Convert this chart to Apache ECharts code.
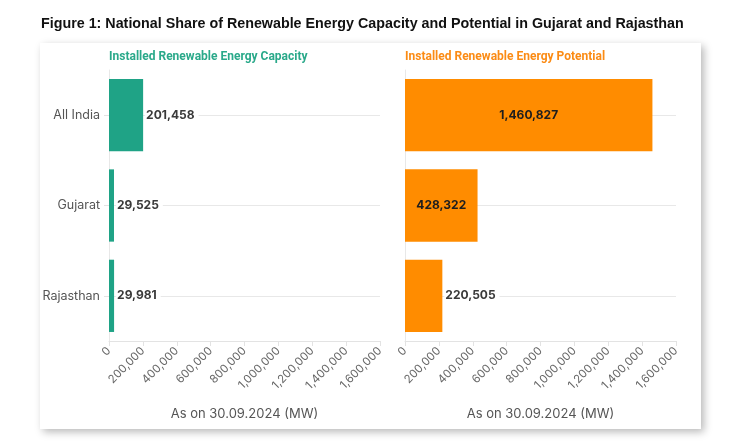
<!DOCTYPE html>
<html>
<head>
<meta charset="utf-8">
<script src="https://cdn.jsdelivr.net/npm/echarts@6/dist/echarts.min.js"></script>
<style>
html,body{margin:0;padding:0;background:#fff;}
#c{width:750px;height:448px;}
</style>
</head>
<body>
<div id="c"></div>
<script>
const categories = ['All India', 'Gujarat', 'Rajasthan'];
const capacity = [201458, 29525, 29981];
const potential = [1460827, 428322, 220505];
const axisMin = 0, axisMax = 1600000, axisInterval = 200000;
const titleText = 'Figure 1: National Share of Renewable Energy Capacity and Potential in Gujarat and Rajasthan';
const leftTitle = 'Installed Renewable Energy Capacity';
const rightTitle = 'Installed Renewable Energy Potential';
const axisName = 'As on 30.09.2024 (MW)';

const fmt = v => Number(v).toLocaleString('en-US');
const chart = echarts.init(document.getElementById('c'), null, {renderer: 'canvas'});

const FONT = 'Inter, "Noto Sans", sans-serif';
const xAxisBase = (gi) => ({
  type: 'value', gridIndex: gi, min: axisMin, max: axisMax, interval: axisInterval,
  name: axisName, nameLocation: 'middle', nameGap: 67,
  nameTextStyle: {color: '#555', fontSize: 13, fontFamily: FONT},
  axisLine: {show: true, lineStyle: {color: '#e3e3e3'}},
  axisTick: {show: true, length: 5, lineStyle: {color: '#e3e3e3'}},
  splitLine: {show: false},
  axisLabel: {rotate: 45, color: '#666', fontSize: 11.5, fontFamily: FONT, margin: 8, formatter: fmt}
});
const yAxisBase = (gi, showLabel) => ({
  type: 'category', gridIndex: gi, data: categories, inverse: true,
  axisLine: {show: true, lineStyle: {color: '#e8e8e8'}},
  axisTick: {show: showLabel, alignWithLabel: true, length: 5, lineStyle: {color: '#e3e3e3'}},
  axisLabel: {show: showLabel, color: '#555', fontSize: 12.5, fontFamily: FONT, margin: 9},
  splitLine: {show: false}
});
const centerLines = {
  silent: true, symbol: 'none', z: 1,
  label: {show: false},
  lineStyle: {color: '#e8e8e8', width: 1, type: 'solid'},
  data: categories.map(c => ({yAxis: c}))
};
const outLabel = {
  show: true, position: 'right', distance: 2, color: '#3a3a3a', fontWeight: 'bold',
  fontSize: 12, fontFamily: FONT, backgroundColor: '#fff', padding: [2, 4, 2, 1],
  formatter: p => fmt(p.value)
};

chart.setOption({
  animation: false,
  backgroundColor: '#fff',
  title: [
    {text: titleText, left: 36, top: 12, textStyle: {fontFamily: '"Liberation Sans", Arial, sans-serif', fontWeight: 'bold', fontSize: 14.3, color: '#111'}},
    {text: leftTitle, left: 104, top: 46, textStyle: {fontFamily: 'Roboto, sans-serif', fontWeight: 'bold', fontSize: 12, color: '#2aa98a'}},
    {text: rightTitle, left: 400, top: 46, textStyle: {fontFamily: 'Roboto, sans-serif', fontWeight: 'bold', fontSize: 12, color: '#fb8b14'}}
  ],
  graphic: [{
    type: 'rect', z: -10, silent: true,
    shape: {x: 40, y: 43, width: 661, height: 386},
    style: {fill: '#fff', shadowBlur: 8, shadowOffsetX: 3, shadowOffsetY: 3, shadowColor: 'rgba(0,0,0,0.28)'}
  }],
  grid: [
    {left: 109, top: 70, width: 271, height: 271},
    {left: 405, top: 70, width: 271, height: 271}
  ],
  xAxis: [xAxisBase(0), xAxisBase(1)],
  yAxis: [yAxisBase(0, true), yAxisBase(1, false)],
  series: [
    {
      type: 'bar', xAxisIndex: 0, yAxisIndex: 0, data: capacity, z: 3,
      barCategoryGap: '20%', itemStyle: {color: '#1fa386'},
      label: outLabel, markLine: centerLines
    },
    {
      type: 'bar', xAxisIndex: 1, yAxisIndex: 1, z: 3,
      data: potential.map(v => ({value: v, label: v > 400000 ? {position: 'inside', color: '#1e1e1e', backgroundColor: 'transparent', padding: 0} : {}})),
      barCategoryGap: '20%', itemStyle: {color: '#ff8c00'},
      label: outLabel, markLine: centerLines
    }
  ]
});
</script>
</body>
</html>
